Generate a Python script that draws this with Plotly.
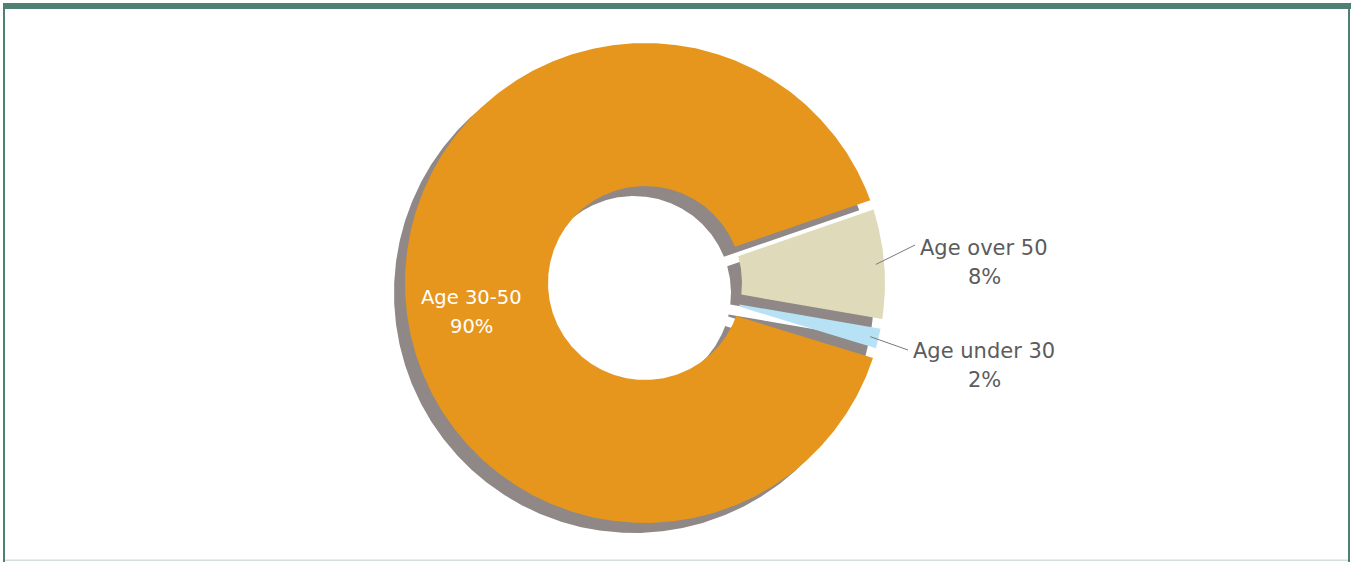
import numpy as np
import plotly.graph_objects as go

# Share of staff by age group (percent)
labels = ["Age over 50", "Age under 30", "Age 30-50"]
shares = [8, 2, 90]
colors = ["#DFDBBA", "#B7E2F5", "#E6961D"]
text_colors = ["#5c5c5c", "#5c5c5c", "#ffffff"]
text_sizes = [21, 21, 19.5]

# Canvas and ring geometry (pixel-like data units, y grows downwards)
W, H = 1351, 562
CX, CY = 645, 283
R_OUT, R_IN = 240, 97
START_DEG = 19.0            # first slice starts here, slices run clockwise
HALF_GAP = 5.0              # half width of the straight gap between slices
SHADOW_DX, SHADOW_DY = -11, 10
SHADOW_COLOR = "#8F8886"
FONT = "DejaVu Sans"
LINE_STEP = 29              # distance between the two lines of a label

# Label anchors (centre of the first label line) and leader-line ends
label_pos = {"Age over 50": (984, 248), "Age under 30": (984, 351), "Age 30-50": (471, 297)}
leader_end = {"Age over 50": (915, 245), "Age under 30": (908, 350)}


def ring_slice(a_hi, a_lo, dx=0.0, dy=0.0):
    """Polygon of a donut slice between two angles with straight parallel gaps."""
    t_out = np.degrees(np.arcsin(HALF_GAP / R_OUT))
    t_in = np.degrees(np.arcsin(HALF_GAP / R_IN))
    n = max(10, int(abs(a_hi - a_lo) * 2))
    outer = np.radians(np.linspace(a_hi - t_out, a_lo + t_out, n))
    inner = np.radians(np.linspace(a_lo + t_in, a_hi - t_in, n))
    xs = np.concatenate([CX + R_OUT * np.cos(outer), CX + R_IN * np.cos(inner)]) + dx
    ys = np.concatenate([CY - R_OUT * np.sin(outer), CY - R_IN * np.sin(inner)]) + dy
    return np.append(xs, xs[0]), np.append(ys, ys[0])


total = float(sum(shares))
edges = START_DEG - 360.0 * np.concatenate([[0.0], np.cumsum(shares)]) / total

fig = go.Figure()

# drop shadow of the whole ring
for i, lab in enumerate(labels):
    xs, ys = ring_slice(edges[i], edges[i + 1], SHADOW_DX, SHADOW_DY)
    fig.add_trace(go.Scatter(x=xs, y=ys, mode="lines", fill="toself",
                             fillcolor=SHADOW_COLOR, line=dict(width=0, color=SHADOW_COLOR),
                             hoverinfo="skip", showlegend=False))

# the slices themselves
for i, lab in enumerate(labels):
    xs, ys = ring_slice(edges[i], edges[i + 1])
    fig.add_trace(go.Scatter(x=xs, y=ys, mode="lines", fill="toself",
                             fillcolor=colors[i], line=dict(width=0, color=colors[i]),
                             name=lab, text=f"{lab}: {shares[i]}%", hoverinfo="text",
                             showlegend=False))

annotations = []
for i, lab in enumerate(labels):
    if lab in leader_end:
        mid = np.radians((edges[i] + edges[i + 1]) / 2)
        r0 = 0.965 * R_OUT
        x0, y0 = CX + r0 * np.cos(mid), CY - r0 * np.sin(mid)
        x1, y1 = leader_end[lab]
        fig.add_trace(go.Scatter(x=[x0, x1], y=[y0, y1], mode="lines",
                                 line=dict(color="#7a7a7a", width=1),
                                 hoverinfo="skip", showlegend=False))
    tx, ty = label_pos[lab]
    for k, line in enumerate([lab, f"{shares[i]}%"]):
        annotations.append(dict(x=tx, y=ty + k * LINE_STEP, xref="x", yref="y",
                                showarrow=False, text=line, align="center",
                                font=dict(family=FONT, size=text_sizes[i], color=text_colors[i])))

# frame around the panel
frame = [
    dict(type="rect", x0=3, x1=W, y0=3, y1=9, fillcolor="#4F8073", line_width=0),
    dict(type="rect", x0=3, x1=5, y0=3, y1=H, fillcolor="#4F8073", line_width=0),
    dict(type="rect", x0=1348, x1=1350, y0=3, y1=H, fillcolor="#4F8073", line_width=0),
    dict(type="rect", x0=5, x1=1348, y0=559.5, y1=561, fillcolor="#D6DEDC", line_width=0),
]

fig.update_layout(
    width=W, height=H,
    margin=dict(l=0, r=0, t=0, b=0),
    paper_bgcolor="white", plot_bgcolor="white",
    xaxis=dict(range=[0, W], visible=False, fixedrange=True),
    yaxis=dict(range=[H, 0], visible=False, fixedrange=True),
    annotations=annotations,
    shapes=frame,
    showlegend=False,
)

fig.write_html("out.html")
